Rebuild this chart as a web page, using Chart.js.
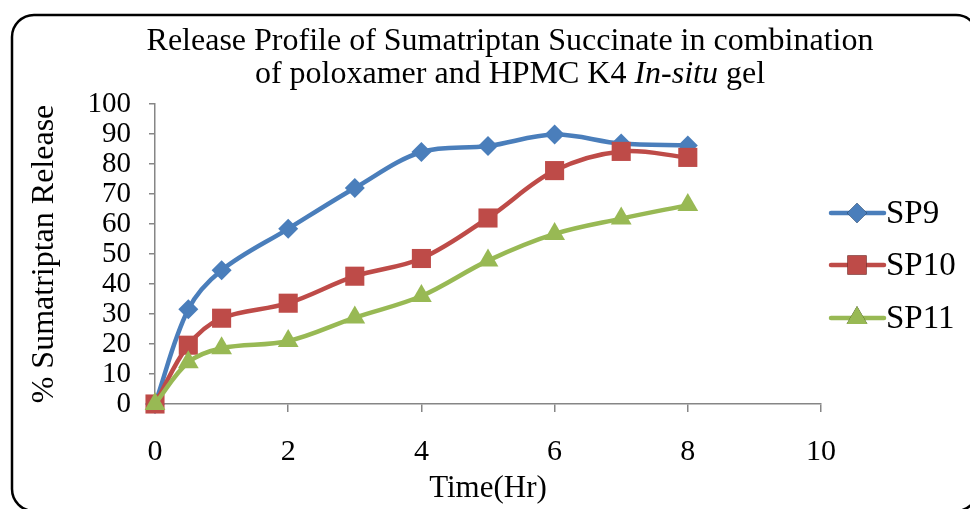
<!DOCTYPE html>
<html>
<head>
<meta charset="utf-8">
<script src="https://cdn.jsdelivr.net/npm/chart.js@4"></script>
<style>
  html, body { margin: 0; padding: 0; background: #fff; }
  #wrap { width: 970px; height: 509px; }
</style>
</head>
<body>
<div id="wrap"><canvas id="releaseChart" width="970" height="509"></canvas></div>
<script>
const times = [0, 0.5, 1, 2, 3, 4, 5, 6, 7, 8];
const sp9 = [0, 31.6, 44.6, 58.4, 72, 84, 86, 89.8, 86.8, 86.2];
const sp10 = [0, 19.6, 28.6, 33.6, 42.6, 48.5, 62, 77.8, 84.2, 82.2];
const sp11 = [0, 13.9, 18.6, 21, 28.8, 36, 47.8, 56.7, 61.8, 66.3];
const seriesNames = ["SP9", "SP10", "SP11"];
const seriesColors = ["#4a7ebb", "#be4b48", "#98b954"];
const pointStyles = ["rectRot", "rect", "triangle"];
const pointSizes = [10, 13.5, 12];

const serif = "'Liberation Serif', 'Times New Roman', serif";
const axisGray = "#868686";

function toPoints(ys) {
  return times.map((t, i) => ({ x: t, y: ys[i] }));
}

const datasets = [sp9, sp10, sp11].map((ys, i) => ({
  label: seriesNames[i],
  data: toPoints(ys),
  borderColor: seriesColors[i],
  backgroundColor: seriesColors[i],
  borderWidth: 4.5,
  tension: 0.35,
  pointStyle: pointStyles[i],
  pointRadius: pointSizes[i],
  pointBorderWidth: 0,
  clip: false,
  order: 3 - i
}));

// frame, title and legend drawn on the canvas
const decorPlugin = {
  id: "decor",
  beforeDraw(chart) {
    const ctx = chart.ctx;
    ctx.save();
    ctx.fillStyle = "#fff";
    ctx.fillRect(0, 0, chart.width, chart.height);
    ctx.strokeStyle = "#000";
    ctx.lineWidth = 2.5;
    ctx.beginPath();
    ctx.roundRect(12, 15, 966, 496, 22);
    ctx.stroke();
    ctx.restore();
  },
  afterDraw(chart) {
    const ctx = chart.ctx;
    ctx.save();
    ctx.fillStyle = "#000";
    ctx.textBaseline = "middle";
    ctx.textAlign = "center";
    ctx.font = "32px " + serif;
    ctx.fillText("Release Profile of Sumatriptan Succinate in combination", 510, 42);

    // second line has an italic part
    const parts = [
      { t: "of poloxamer and HPMC K4 ", f: "32px " + serif },
      { t: "In-situ", f: "italic 32px " + serif },
      { t: " gel", f: "32px " + serif }
    ];
    let total = 0;
    parts.forEach(p => { ctx.font = p.f; p.w = ctx.measureText(p.t).width; total += p.w; });
    let x = 510 - total / 2;
    ctx.textAlign = "left";
    parts.forEach(p => { ctx.font = p.f; ctx.fillText(p.t, x, 75); x += p.w; });

    // legend
    const ys = [213, 265, 318];
    chart.data.datasets.forEach((ds, i) => {
      const y = ys[i];
      ctx.strokeStyle = ds.borderColor;
      ctx.lineWidth = 4.5;
      ctx.lineCap = "round";
      ctx.beginPath();
      ctx.moveTo(831, y);
      ctx.lineTo(884, y);
      ctx.stroke();
      Chart.helpers.drawPoint(ctx, {
        pointStyle: ds.pointStyle,
        radius: ds.pointRadius,
        borderWidth: 0,
        rotation: 0
      }, 857, y);
      ctx.fillStyle = ds.backgroundColor;
      ctx.fill();
      ctx.fillStyle = "#000";
      ctx.font = "33px " + serif;
      ctx.fillText(ds.label, 886, y + 1);
    });
    ctx.restore();
  }
};

new Chart(document.getElementById("releaseChart"), {
  type: "line",
  data: { datasets },
  options: {
    responsive: false,
    animation: false,
    layout: { padding: { top: 104, right: 149, left: 0, bottom: 0 } },
    plugins: {
      legend: { display: false },
      tooltip: { enabled: false }
    },
    scales: {
      x: {
        type: "linear",
        min: 0,
        max: 10,
        afterFit(scale) { scale.height = 105; },
        ticks: {
          stepSize: 2,
          padding: 22,
          autoSkip: false,
          maxRotation: 0,
          color: "#000",
          font: { family: serif, size: 30 }
        },
        grid: { drawOnChartArea: false, tickLength: 8, color: axisGray, lineWidth: 1.5 },
        border: { color: axisGray, width: 1.5 },
        title: {
          display: true,
          text: "Time(Hr)",
          color: "#000",
          font: { family: serif, size: 31 },
          padding: { top: 0, bottom: 2 }
        }
      },
      y: {
        min: 0,
        max: 100,
        afterFit(scale) { scale.width = 155; },
        ticks: {
          stepSize: 10,
          padding: 18,
          autoSkip: false,
          color: "#000",
          font: { family: serif, size: 29 }
        },
        grid: { drawOnChartArea: false, tickLength: 6, color: axisGray, lineWidth: 1.5 },
        border: { color: axisGray, width: 1.5 },
        title: {
          display: true,
          text: "% Sumatriptan Release",
          color: "#000",
          font: { family: serif, size: 32 },
          padding: { top: 25, bottom: 0 }
        }
      }
    }
  },
  plugins: [decorPlugin]
});
</script>
</body>
</html>
